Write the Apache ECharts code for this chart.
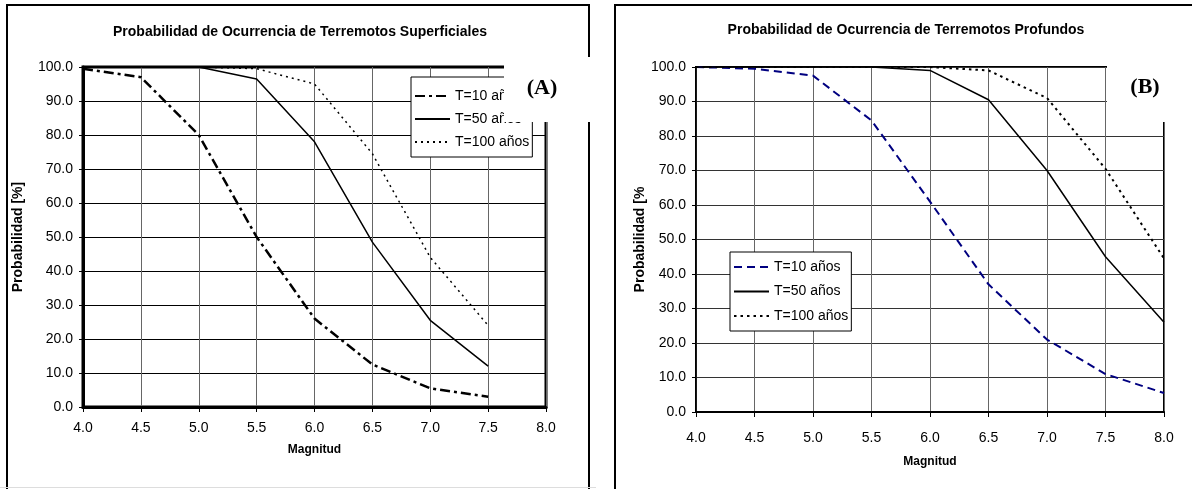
<!DOCTYPE html>
<html>
<head>
<meta charset="utf-8">
<script src="https://cdn.jsdelivr.net/npm/echarts@6/dist/echarts.min.js"></script>
<style>
  html, body { margin: 0; padding: 0; background: #fff; }
  #main { width: 1192px; height: 489px; }
</style>
</head>
<body>
<div id="main"></div>
<script>
// magnitudes (x) and probabilities [%]
const magnitudes = [4.0, 4.5, 5.0, 5.5, 6.0, 6.5, 7.0, 7.5, 8.0];
const superfT10 = [99.5, 97, 80, 50, 26, 12.5, 5.5, 3];
const superfT50 = [100, 100, 100, 96.5, 78, 48.5, 25.5, 12];
const superfT100 = [100, 100, 100, 99.5, 95, 74.5, 44, 24];
const profT10 = [100, 99.5, 97.5, 84.5, 61, 37, 21, 11, 5.5];
const profT50 = [100, 100, 100, 100, 99, 90.5, 70, 45, 26];
const profT100 = [100, 100, 100, 100, 100, 99, 91, 70.5, 44.5];
const periodNames = ['T=10 años', 'T=50 años', 'T=100 años'];

const FONT = 'Arial, "Liberation Sans", sans-serif';

function pairs(vals) {
  return vals.map((v, i) => [magnitudes[i], v]);
}

function xAxisCfg(grid, gap, margin) {
  return {
    gridIndex: grid, type: 'value', min: 4, max: 8, interval: 0.5,
    name: 'Magnitud', nameLocation: 'middle', nameGap: gap,
    nameTextStyle: { fontWeight: 'bold', fontSize: 12, color: '#000', fontFamily: FONT },
    axisLine: { onZero: false, lineStyle: { color: '#000', width: grid == 0 ? 3 : 2 } },
    axisTick: { length: 5, lineStyle: { color: '#000' } },
    axisLabel: { formatter: v => v.toFixed(1), fontSize: 14, color: '#000', margin: margin, fontFamily: FONT },
    splitLine: { show: true, lineStyle: { color: '#666', width: 1 } }
  };
}

function yAxisCfg(grid, name, gap) {
  return {
    gridIndex: grid, type: 'value', min: 0, max: 100, interval: 10,
    name: name, nameLocation: 'middle', nameGap: gap,
    nameTextStyle: { fontWeight: 'bold', fontSize: 14, color: '#000', fontFamily: FONT },
    axisLine: { show: true, lineStyle: { color: '#000', width: grid == 0 ? 3 : 1.5 } },
    axisTick: { show: true, length: 4, lineStyle: { color: '#000' } },
    axisLabel: { formatter: v => v.toFixed(1), fontSize: 14, color: '#000', margin: 10, fontFamily: FONT },
    splitLine: { show: true, lineStyle: { color: grid == 0 ? '#000' : '#333', width: 1 } }
  };
}

function lineSeries(prefix, idx, name, vals, color, type, width) {
  return {
    name: prefix + '|' + name, type: 'line', xAxisIndex: idx, yAxisIndex: idx,
    data: pairs(vals), symbol: 'none', showSymbol: false,
    lineStyle: { color: color, type: type, width: width },
    itemStyle: { color: color }
  };
}

function legendCfg(prefix, left, top, gap, pad) {
  return {
    orient: 'vertical', left: left, top: top,
    data: periodNames.map(n => prefix + '|' + n),
    formatter: n => n.split('|')[1],
    itemWidth: 35, itemHeight: 14, itemGap: gap, padding: pad,
    itemStyle: { opacity: 0 },
    borderColor: '#000', borderWidth: 1, borderRadius: 0, backgroundColor: '#fff',
    textStyle: { fontSize: 14, color: '#000', fontFamily: FONT },
    selectedMode: false
  };
}

const chart = echarts.init(document.getElementById('main'));

chart.setOption({
  animation: false,
  backgroundColor: '#fff',
  grid: [
    { left: 83, right: 1192 - 546, top: 67, bottom: 489 - 407, show: true, borderColor: '#000', borderWidth: 3 },
    { left: 696, right: 1192 - 1164, top: 67, bottom: 489 - 412, show: true, borderColor: '#000', borderWidth: 2 }
  ],
  xAxis: [xAxisCfg(0, 37, 14), xAxisCfg(1, 44, 19)],
  yAxis: [yAxisCfg(0, 'Probabilidad [%]', 58), yAxisCfg(1, 'Probabilidad [%', 42)],
  legend: [
    legendCfg('A', 411, 77, 9, [12, 3, 8, 3]),
    legendCfg('B', 730, 252, 10.5, [8, 3, 8, 3])
  ],
  series: [
    lineSeries('A', 0, periodNames[0], superfT10, '#000', [10, 4, 3, 4], 2.5),
    lineSeries('A', 0, periodNames[1], superfT50, '#000', 'solid', 1.5),
    lineSeries('A', 0, periodNames[2], superfT100, '#000', [2, 4], 1.5),
    lineSeries('B', 1, periodNames[0], profT10, '#000080', [8, 5], 2),
    lineSeries('B', 1, periodNames[1], profT50, '#000', 'solid', 1.5),
    lineSeries('B', 1, periodNames[2], profT100, '#000', [2.5, 4], 2)
  ],
  graphic: [
    // chart frames
    { type: 'rect', shape: { x: 7, y: 5, width: 582, height: 492 }, style: { fill: null, stroke: '#000', lineWidth: 2 }, z: 1 },
    { type: 'line', shape: { x1: 0, y1: 487.5, x2: 596, y2: 487.5 }, style: { stroke: '#ddd', lineWidth: 1 }, z: 1 },
    { type: 'rect', shape: { x: 615, y: 5, width: 600, height: 500 }, style: { fill: null, stroke: '#000', lineWidth: 2 }, z: 1 },
    // titles
    { type: 'text', x: 300, y: 32, z: 10, style: { text: 'Probabilidad de Ocurrencia de Terremotos Superficiales', textAlign: 'center', textVerticalAlign: 'middle', font: 'bold 14px ' + FONT, fill: '#000' } },
    { type: 'text', x: 906, y: 30, z: 10, style: { text: 'Probabilidad de Ocurrencia de Terremotos Profundos', textAlign: 'center', textVerticalAlign: 'middle', font: 'bold 14px ' + FONT, fill: '#000' } },
    // panel labels on white patches
    { type: 'rect', shape: { x: 504, y: 57, width: 86, height: 65 }, style: { fill: '#fff' }, z: 100 },
    { type: 'text', x: 542, y: 88, z: 101, style: { text: '(A)', textAlign: 'center', textVerticalAlign: 'middle', font: 'bold 22px "Times New Roman", "Liberation Serif", serif', fill: '#000' } },
    { type: 'rect', shape: { x: 1107, y: 20, width: 85, height: 102 }, style: { fill: '#fff' }, z: 100 },
    { type: 'text', x: 1145, y: 87, z: 101, style: { text: '(B)', textAlign: 'center', textVerticalAlign: 'middle', font: 'bold 22px "Times New Roman", "Liberation Serif", serif', fill: '#000' } }
  ]
});
</script>
</body>
</html>
